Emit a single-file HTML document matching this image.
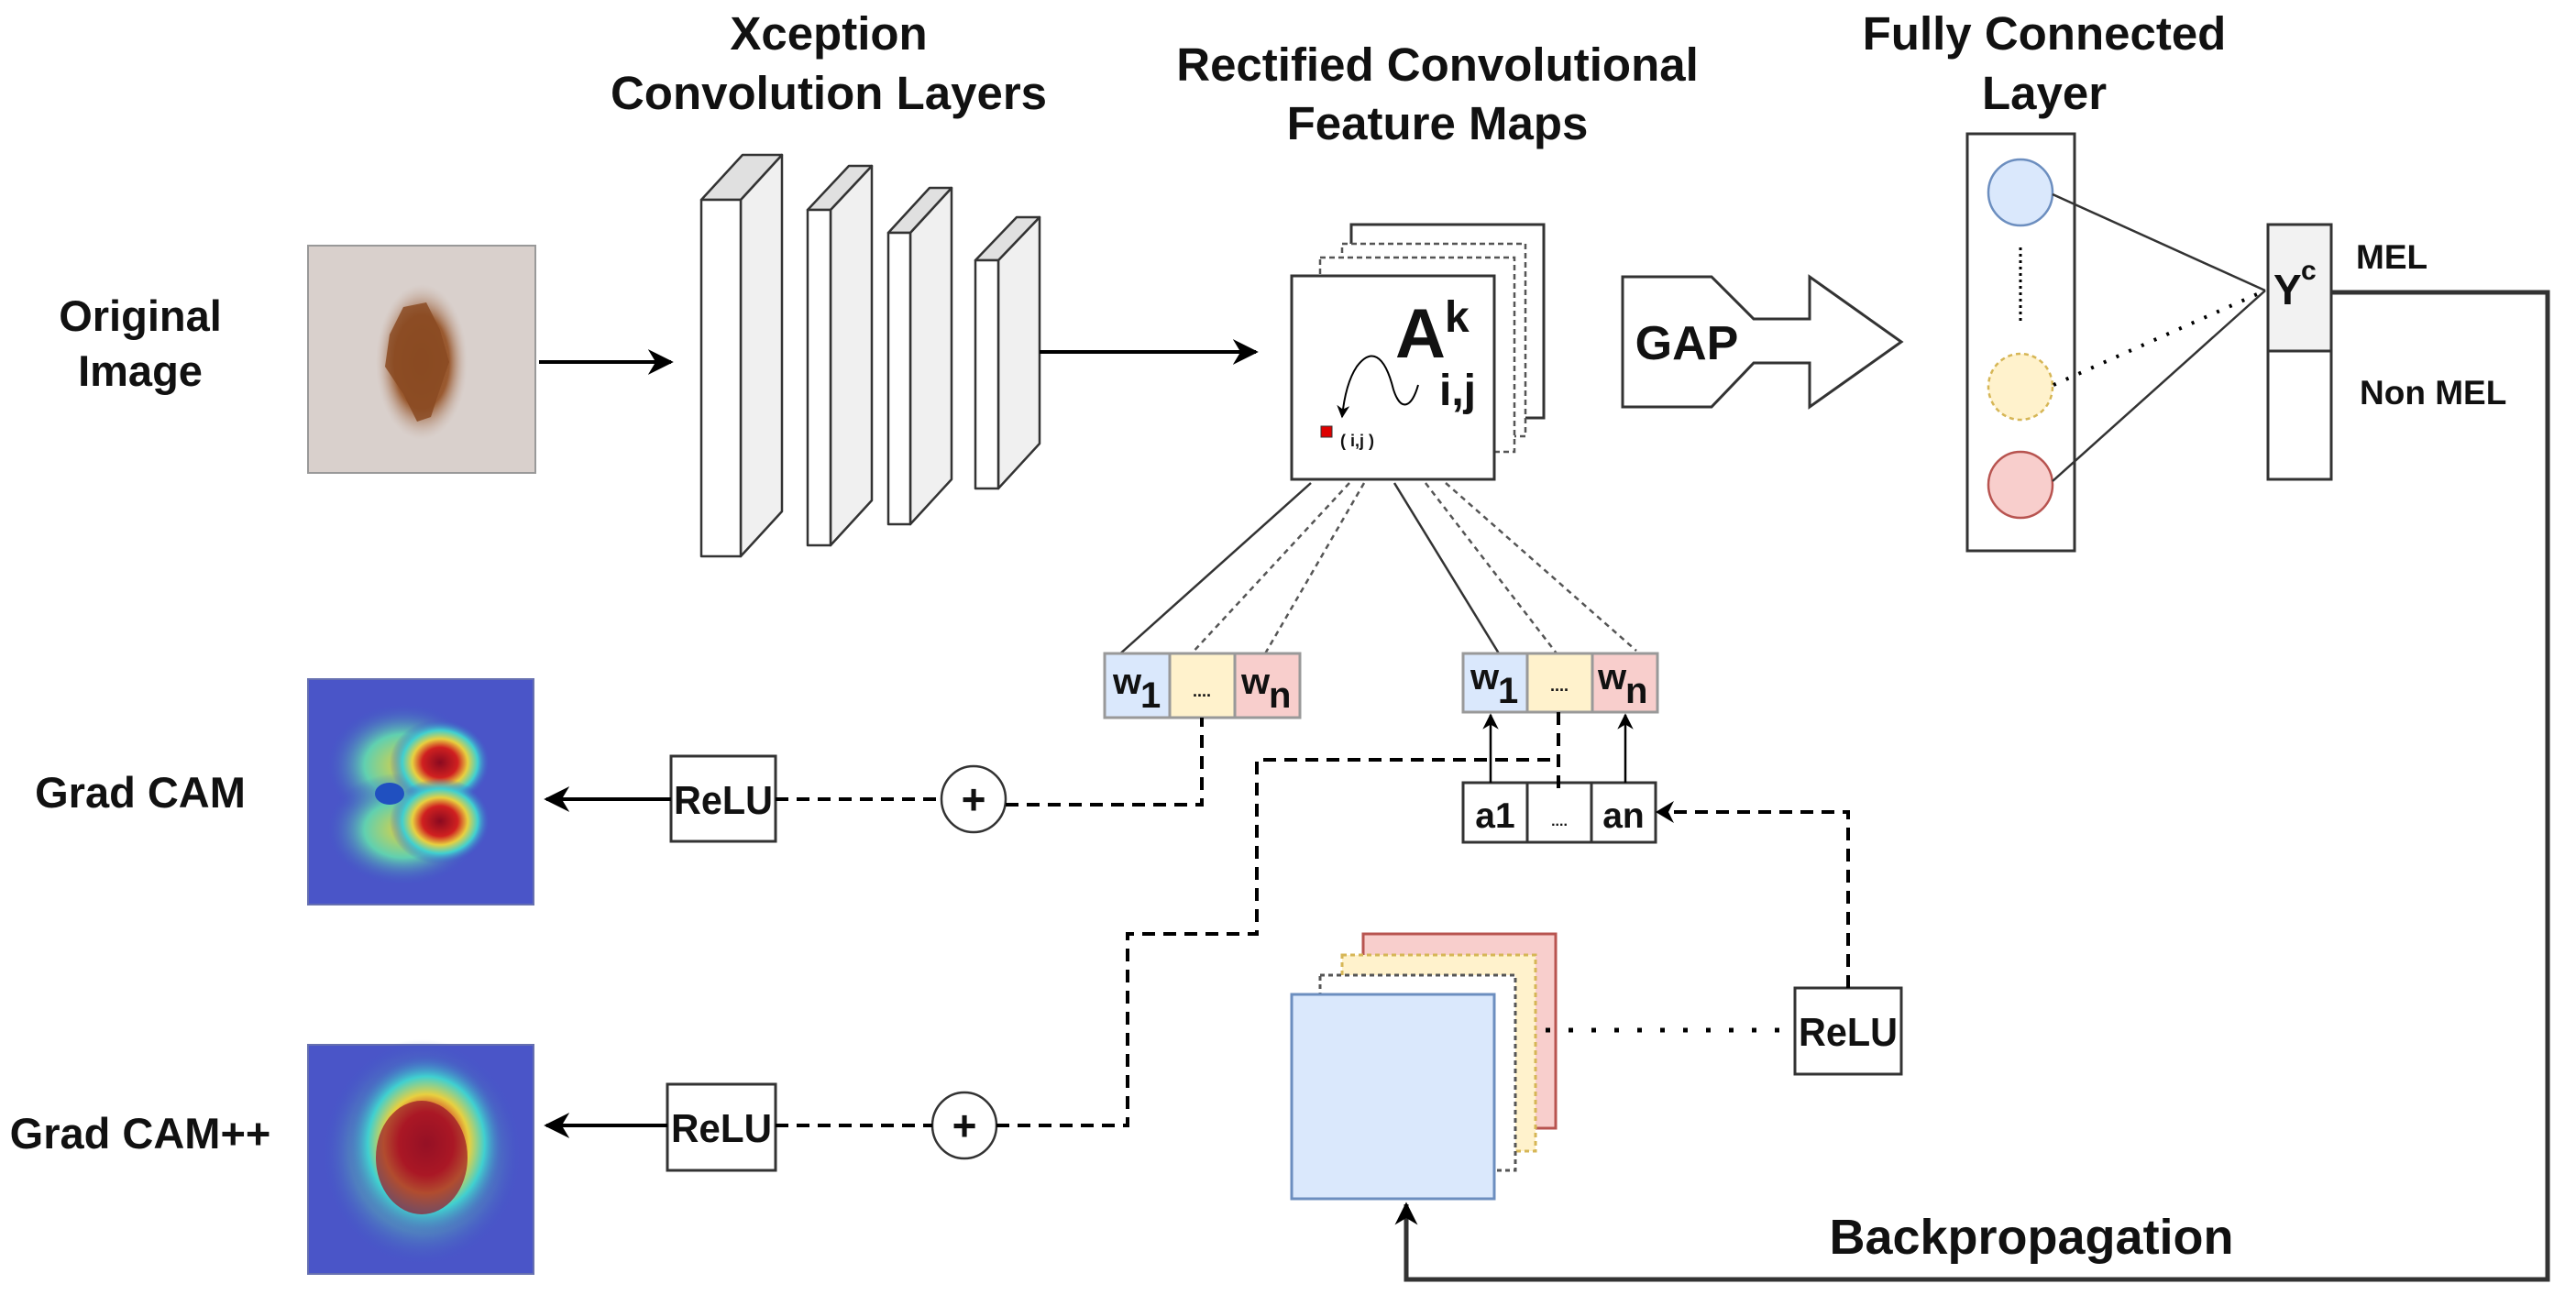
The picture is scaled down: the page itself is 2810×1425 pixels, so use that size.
<!DOCTYPE html>
<html><head><meta charset="utf-8"><style>
html,body{margin:0;padding:0;background:#fff}
svg{display:block}
text{font-family:"Liberation Sans",Arial,sans-serif;font-weight:bold;fill:#111}
</style></head><body>
<svg width="2810" height="1425" viewBox="0 0 2810 1425" xmlns="http://www.w3.org/2000/svg">
<defs>
<marker id="ah" viewBox="0 0 10 10" refX="9" refY="5" markerWidth="7" markerHeight="7" orient="auto"><path d="M0,0 L10,5 L0,10 L3,5 Z" fill="#000"/></marker>
<marker id="ahs" viewBox="0 0 10 10" refX="9" refY="5" markerWidth="5" markerHeight="5" orient="auto"><path d="M0,0 L10,5 L0,10 L3,5 Z" fill="#000"/></marker>
<radialGradient id="lesion" cx="0.5" cy="0.5" r="0.5"><stop offset="0" stop-color="#8a4a20"/><stop offset="0.6" stop-color="#9a5a30"/><stop offset="1" stop-color="#c9b3a8" stop-opacity="0"/></radialGradient>
<radialGradient id="hot" cx="0.5" cy="0.5" r="0.5"><stop offset="0" stop-color="#8a0a20"/><stop offset="0.35" stop-color="#d02020"/><stop offset="0.55" stop-color="#e8d040"/><stop offset="0.75" stop-color="#40d0d0"/><stop offset="1" stop-color="#4050c8" stop-opacity="0"/></radialGradient>
<radialGradient id="warm" cx="0.5" cy="0.5" r="0.5"><stop offset="0" stop-color="#e0d040"/><stop offset="0.5" stop-color="#60d0b0"/><stop offset="1" stop-color="#4050c8" stop-opacity="0"/></radialGradient>
</defs>

<text x="904" y="54" font-size="51" text-anchor="middle">Xception</text>
<text x="904" y="119" font-size="51" text-anchor="middle">Convolution Layers</text>
<text x="1568" y="88" font-size="51" text-anchor="middle">Rectified Convolutional</text>
<text x="1568" y="152" font-size="51" text-anchor="middle">Feature Maps</text>
<text x="2230" y="54" font-size="51" text-anchor="middle">Fully Connected</text>
<text x="2230" y="119" font-size="51" text-anchor="middle">Layer</text>

<text x="153" y="361" font-size="47" text-anchor="middle">Original</text>
<text x="153" y="421" font-size="47" text-anchor="middle">Image</text>
<text x="153" y="881" font-size="47" text-anchor="middle">Grad CAM</text>
<text x="153" y="1253" font-size="47" text-anchor="middle">Grad CAM++</text>

<rect x="336" y="268" width="248" height="248" fill="#d9d0cc" stroke="#999" stroke-width="2"/>
<ellipse cx="460" cy="395" rx="50" ry="85" fill="url(#lesion)"/>
<path d="M440,335 L465,330 L480,360 L490,395 L478,430 L470,455 L455,460 L440,430 L420,400 L425,365 Z" fill="#8a4a22" opacity="0.85"/>

<g stroke="#333" stroke-width="2.5" stroke-linejoin="round">
<polygon points="808,218 853,169 853,558 808,607" fill="#f0f0f0"/><polygon points="765,218 808,218 853,169 810,169" fill="#e0e0e0"/><rect x="765" y="218" width="43" height="389" fill="#fff"/>
<polygon points="906,229 951,181 951,546 906,595" fill="#f0f0f0"/><polygon points="881,229 906,229 951,181 926,181" fill="#e0e0e0"/><rect x="881" y="229" width="25" height="366" fill="#fff"/>
<polygon points="993,254 1038,205 1038,523 993,572" fill="#f0f0f0"/><polygon points="969,254 993,254 1038,205 1014,205" fill="#e0e0e0"/><rect x="969" y="254" width="24" height="318" fill="#fff"/>
<polygon points="1089,284 1134,237 1134,484 1089,533" fill="#f0f0f0"/><polygon points="1064,284 1089,284 1134,237 1109,237" fill="#e0e0e0"/><rect x="1064" y="284" width="25" height="249" fill="#fff"/>
</g>
<line x1="588" y1="395" x2="732" y2="395" stroke="#000" stroke-width="4" marker-end="url(#ah)"/>
<line x1="1134" y1="384" x2="1370" y2="384" stroke="#000" stroke-width="4" marker-end="url(#ah)"/>

<rect x="1474" y="245" width="210" height="211" fill="#fff" stroke="#333" stroke-width="3"/>
<rect x="1464" y="266" width="200" height="210" fill="#fff" stroke="#555" stroke-width="2.5" stroke-dasharray="6,4"/>
<rect x="1440" y="281" width="212" height="212" fill="#fff" stroke="#555" stroke-width="2.5" stroke-dasharray="6,4"/>
<rect x="1409" y="301" width="221" height="222" fill="#fff" stroke="#333" stroke-width="3"/>
<text x="1522" y="390" font-size="76" font-weight="bold">A</text>
<text x="1576" y="362" font-size="48">k</text>
<text x="1570" y="442" font-size="48">i,j</text>
<path d="M1547,420 C1540,445 1528,450 1520,425 C1510,385 1495,380 1480,400 C1470,415 1466,435 1464,455" fill="none" stroke="#000" stroke-width="2" marker-end="url(#ah)"/>
<rect x="1441" y="465" width="12" height="12" fill="#d00" stroke="#333" stroke-width="1"/>
<text x="1462" y="487" font-size="18" font-weight="normal" fill="#444">( i,j )</text>

<path d="M1770,302 L1867,302 L1913,348 L1974,348 L1974,302 L2074,373 L1974,444 L1974,396 L1913,396 L1867,444 L1770,444 Z" fill="#fff" stroke="#333" stroke-width="3"/>
<text x="1840" y="392" font-size="52" text-anchor="middle">GAP</text>

<rect x="2146" y="146" width="117" height="455" fill="#fff" stroke="#333" stroke-width="3"/>
<ellipse cx="2204" cy="210" rx="35" ry="36" fill="#dae8fc" stroke="#6c8ebf" stroke-width="2.5"/>
<ellipse cx="2204" cy="422" rx="35" ry="36" fill="#fff2cc" stroke="#d6b656" stroke-width="2.5" stroke-dasharray="5,4"/>
<ellipse cx="2204" cy="529" rx="35" ry="36" fill="#f8cecc" stroke="#b85450" stroke-width="2.5"/>
<line x1="2204" y1="270" x2="2204" y2="350" stroke="#000" stroke-width="3" stroke-dasharray="3,4"/>
<line x1="2239" y1="212" x2="2471" y2="317" stroke="#333" stroke-width="2.5"/>
<line x1="2240" y1="420" x2="2471" y2="317" stroke="#000" stroke-width="4" stroke-dasharray="3,12"/>
<line x1="2239" y1="525" x2="2471" y2="317" stroke="#333" stroke-width="2.5"/>
<rect x="2474" y="245" width="69" height="138" fill="#f2f2f2" stroke="#333" stroke-width="3"/>
<rect x="2474" y="383" width="69" height="140" fill="#fff" stroke="#333" stroke-width="3"/>
<text x="2480" y="332" font-size="46">Y</text><text x="2510" y="305" font-size="30">c</text>
<text x="2570" y="293" font-size="37">MEL</text>
<text x="2574" y="441" font-size="37">Non MEL</text>

<polyline points="2543,319 2779,319 2779,1396 1534,1396 1534,1314" fill="none" stroke="#333" stroke-width="5" marker-end="url(#ahs)"/>
<text x="2216" y="1368" font-size="54" text-anchor="middle">Backpropagation</text>

<line x1="1430" y1="527" x2="1220" y2="715" stroke="#333" stroke-width="2.5"/>
<line x1="1472" y1="527" x2="1298" y2="715" stroke="#555" stroke-width="2.5" stroke-dasharray="6,5"/>
<line x1="1488" y1="527" x2="1379" y2="715" stroke="#555" stroke-width="2.5" stroke-dasharray="6,5"/>
<line x1="1521" y1="527" x2="1635" y2="713" stroke="#333" stroke-width="2.5"/>
<line x1="1555" y1="527" x2="1698" y2="713" stroke="#555" stroke-width="2.5" stroke-dasharray="6,5"/>
<line x1="1577" y1="527" x2="1785" y2="710" stroke="#555" stroke-width="2.5" stroke-dasharray="6,5"/>

<g stroke="#999" stroke-width="3">
<rect x="1205" y="713" width="71" height="70" fill="#dae8fc"/>
<rect x="1276" y="713" width="71" height="70" fill="#fff2cc"/>
<rect x="1347" y="713" width="71" height="70" fill="#f8cecc"/>
<rect x="1596" y="713" width="70" height="64" fill="#dae8fc"/>
<rect x="1666" y="713" width="71" height="64" fill="#fff2cc"/>
<rect x="1737" y="713" width="71" height="64" fill="#f8cecc"/>
</g>
<g font-size="40">
<text x="1214" y="757">w</text><text x="1244" y="772">1</text>
<text x="1354" y="757">w</text><text x="1384" y="772">n</text>
<text x="1604" y="752">w</text><text x="1634" y="767">1</text>
<text x="1743" y="752">w</text><text x="1773" y="767">n</text>
</g>
<text x="1311" y="760" font-size="18" text-anchor="middle" fill="#b59a50">....</text>
<text x="1701" y="754" font-size="18" text-anchor="middle" fill="#b59a50">....</text>

<g stroke="#333" stroke-width="3" fill="#fff">
<rect x="1596" y="854" width="70" height="65"/><rect x="1666" y="854" width="70" height="65"/><rect x="1736" y="854" width="70" height="65"/>
</g>
<text x="1631" y="903" font-size="39" text-anchor="middle">a1</text>
<text x="1771" y="903" font-size="39" text-anchor="middle">an</text>
<text x="1701" y="901" font-size="16" text-anchor="middle" fill="#888">....</text>
<line x1="1626" y1="854" x2="1626" y2="780" stroke="#000" stroke-width="2.5" marker-end="url(#ah)"/>
<line x1="1773" y1="854" x2="1773" y2="780" stroke="#000" stroke-width="2.5" marker-end="url(#ah)"/>
<line x1="1700" y1="777" x2="1700" y2="866" stroke="#000" stroke-width="4" stroke-dasharray="14,9"/>

<rect x="336" y="741" width="246" height="246" fill="#4a55c8" stroke="#6670b0" stroke-width="2"/>
<ellipse cx="440" cy="835" rx="85" ry="68" fill="url(#warm)"/>
<ellipse cx="440" cy="905" rx="85" ry="62" fill="url(#warm)"/>
<ellipse cx="480" cy="832" rx="55" ry="47" fill="url(#hot)"/>
<ellipse cx="480" cy="896" rx="55" ry="47" fill="url(#hot)"/>
<ellipse cx="425" cy="866" rx="16" ry="12" fill="#2050c0"/>
<rect x="336" y="1140" width="246" height="250" fill="#4a55c8" stroke="#6670b0" stroke-width="2"/>
<ellipse cx="460" cy="1258" rx="110" ry="124" fill="url(#warm)"/>
<ellipse cx="465" cy="1248" rx="85" ry="98" fill="url(#hot)"/>
<ellipse cx="460" cy="1263" rx="50" ry="62" fill="#9a1428" opacity="0.7"/>

<g stroke="#333" stroke-width="3" fill="#fff">
<rect x="732" y="825" width="114" height="93"/>
<rect x="728" y="1183" width="118" height="94"/>
<rect x="1958" y="1078" width="116" height="94"/>
</g>
<text x="789" y="888" font-size="44" text-anchor="middle" textLength="108" lengthAdjust="spacingAndGlyphs">ReLU</text>
<text x="787" y="1246" font-size="44" text-anchor="middle" textLength="110" lengthAdjust="spacingAndGlyphs">ReLU</text>
<text x="2016" y="1141" font-size="44" text-anchor="middle" textLength="108" lengthAdjust="spacingAndGlyphs">ReLU</text>
<line x1="732" y1="872" x2="596" y2="872" stroke="#000" stroke-width="4" marker-end="url(#ah)"/>
<line x1="728" y1="1228" x2="596" y2="1228" stroke="#000" stroke-width="4" marker-end="url(#ah)"/>

<ellipse cx="1062" cy="872" rx="35" ry="36" fill="#fff" stroke="#333" stroke-width="2.5"/>
<text x="1062" y="888" font-size="46" text-anchor="middle">+</text>
<ellipse cx="1052" cy="1228" rx="35" ry="36" fill="#fff" stroke="#333" stroke-width="2.5"/>
<text x="1052" y="1244" font-size="46" text-anchor="middle">+</text>

<g fill="none" stroke="#000" stroke-width="4" stroke-dasharray="14,9">
<line x1="846" y1="872" x2="1027" y2="872"/>
<polyline points="1097,878 1311,878 1311,783"/>
<line x1="846" y1="1228" x2="1017" y2="1228"/>
<polyline points="1087,1228 1230,1228 1230,1019 1371,1019 1371,829 1700,829"/>
<polyline points="2016,1078 2016,886 1812,886"/>
</g>
<path d="M1806,886 L1826,874 L1820,886 L1826,898 Z" fill="#000"/>

<rect x="1487" y="1019" width="210" height="212" fill="#f8cecc" stroke="#b85450" stroke-width="3"/>
<rect x="1464" y="1042" width="211" height="214" fill="#fff2cc" stroke="#d6b656" stroke-width="3" stroke-dasharray="5,4"/>
<rect x="1440" y="1064" width="213" height="213" fill="#fff" stroke="#555" stroke-width="3" stroke-dasharray="5,4"/>
<rect x="1409" y="1085" width="221" height="223" fill="#dae8fc" stroke="#6c8ebf" stroke-width="3"/>
<line x1="1686" y1="1124" x2="1958" y2="1124" stroke="#000" stroke-width="5" stroke-dasharray="5,20"/>
</svg>
</body></html>
